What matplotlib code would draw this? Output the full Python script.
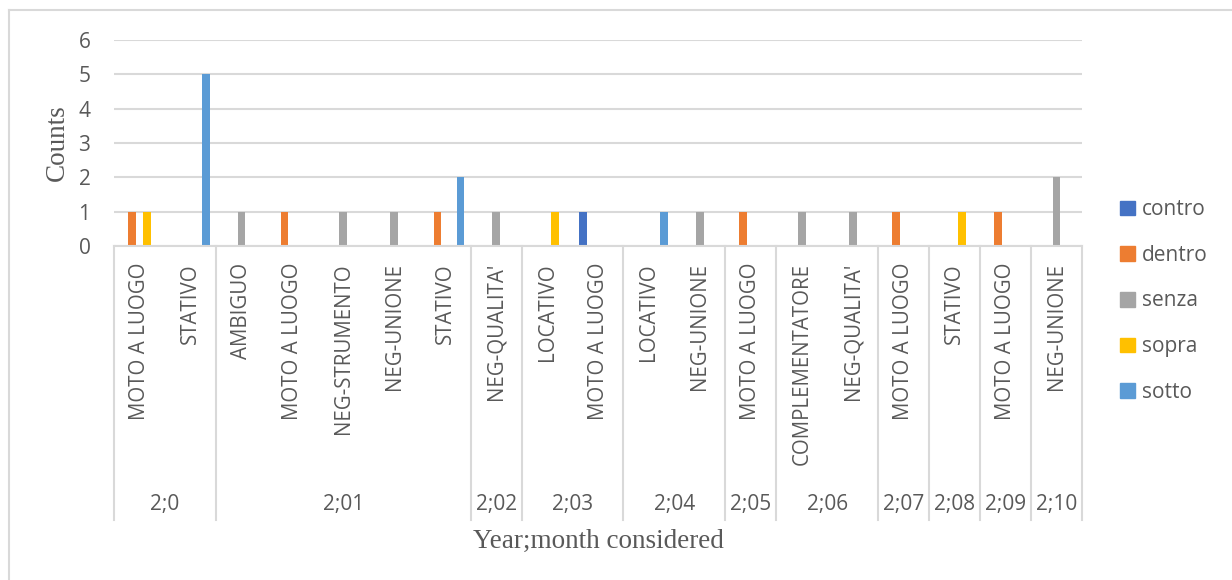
import matplotlib.pyplot as plt
import numpy as np
from matplotlib.lines import Line2D
from matplotlib.patches import Patch

# data
groups = ["2;0", "2;01", "2;02", "2;03", "2;04", "2;05", "2;06", "2;07", "2;08", "2;09", "2;10"]
group_sizes = [2, 5, 1, 2, 2, 1, 2, 1, 1, 1, 1]
labels = ["MOTO A LUOGO", "STATIVO",
          "AMBIGUO", "MOTO A LUOGO", "NEG-STRUMENTO", "NEG-UNIONE", "STATIVO",
          "NEG-QUALITA'",
          "LOCATIVO", "MOTO A LUOGO",
          "LOCATIVO", "NEG-UNIONE",
          "MOTO A LUOGO",
          "COMPLEMENTATORE", "NEG-QUALITA'",
          "MOTO A LUOGO",
          "STATIVO",
          "MOTO A LUOGO",
          "NEG-UNIONE"]
series = ["contro", "dentro", "senza", "sopra", "sotto"]
contro = [0, 0, 0, 0, 0, 0, 0, 0, 0, 1, 0, 0, 0, 0, 0, 0, 0, 0, 0]
dentro = [1, 0, 0, 1, 0, 0, 1, 0, 0, 0, 0, 0, 1, 0, 0, 1, 0, 1, 0]
senza = [0, 0, 1, 0, 1, 1, 0, 1, 0, 0, 0, 1, 0, 1, 1, 0, 0, 0, 2]
sopra = [1, 0, 0, 0, 0, 0, 0, 0, 1, 0, 0, 0, 0, 0, 0, 0, 1, 0, 0]
sotto = [0, 5, 0, 0, 0, 0, 2, 0, 0, 0, 1, 0, 0, 0, 0, 0, 0, 0, 0]
colors = ["#4472C4", "#ED7D31", "#A5A5A5", "#FFC000", "#5B9BD5"]

sans = ["Open Sans", "DejaVu Sans"]
serif = ["Liberation Serif", "DejaVu Serif"]
txt = "#595959"
grid = "#D9D9D9"

fig = plt.figure(figsize=(12.32, 5.8), dpi=100)
ax = fig.add_axes([114 / 1232, 1 - 246 / 580, (1082 - 114) / 1232, 206 / 580])

n = len(labels)
x = np.arange(n)
w = 0.15
for i, (vals, c) in enumerate(zip([contro, dentro, senza, sopra, sotto], colors)):
    ax.bar(x + (i - 2) * w, vals, w, color=c, zorder=3)

ax.set_xlim(-0.5, n - 0.5)
ax.set_ylim(0, 6)
ax.set_yticks(range(7))
ax.tick_params(axis="y", length=0, pad=17, labelsize=15, labelcolor=txt)
for t in ax.get_yticklabels():
    t.set_family(sans)
ax.set_xticks([])
ax.grid(axis="y", color=grid, lw=1.5, zorder=0)
for s in ["top", "right", "left"]:
    ax.spines[s].set_visible(False)
ax.spines["bottom"].set_color(grid)
ax.spines["bottom"].set_linewidth(1.5)
ax.spines["bottom"].set_zorder(4)

trans = ax.get_xaxis_transform()
for i, lab in enumerate(labels):
    ax.text(i, -0.082, lab, rotation=90, ha="center", va="top", transform=trans,
            fontsize=14.8, color=txt, family=sans)

# category separators and group labels
bounds = np.concatenate([[0], np.cumsum(group_sizes)]) - 0.5
for b in bounds:
    ax.plot([b, b], [0, -1.33], transform=trans, color=grid, lw=1.5, clip_on=False)
for g, a, b in zip(groups, bounds[:-1], bounds[1:]):
    ax.text((a + b) / 2, -1.257, g, ha="center", va="center", transform=trans,
            fontsize=15, color=txt, family=sans)

fig.text(57 / 1232, 1 - 143 / 580, "Counts", rotation=90, ha="center", va="center",
         fontsize=19.5, color=txt, family=serif)
fig.text(598 / 1232, 1 - 541 / 580, "Year;month considered", ha="center", va="center",
         fontsize=19.5, color=txt, family=serif)

handles = [Patch(color=c) for c in colors]
leg = fig.legend(handles, series, loc="upper left", bbox_to_anchor=(1112 / 1232, 1 - 191 / 580),
                 frameon=False, handlelength=0.7, handleheight=0.7, handletextpad=0.35,
                 labelspacing=1.18, borderaxespad=0, prop={"family": sans, "size": 15})
for t in leg.get_texts():
    t.set_color(txt)

# chart border
fig.add_artist(Line2D([9 / 1232, 9 / 1232], [0, 1 - 10 / 580], transform=fig.transFigure, color=grid, lw=1.5))
fig.add_artist(Line2D([9 / 1232, 1], [1 - 10 / 580, 1 - 10 / 580], transform=fig.transFigure, color=grid, lw=1.5))

fig.savefig("out.png", dpi=100)
